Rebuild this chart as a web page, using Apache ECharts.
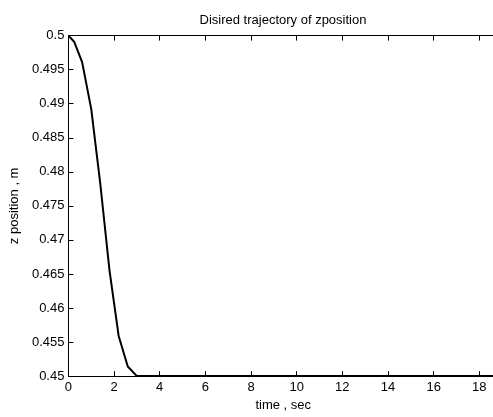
<!DOCTYPE html>
<html>
<head>
<meta charset="utf-8">
<script src="https://cdn.jsdelivr.net/npm/echarts@6/dist/echarts.min.js"></script>
<style>html,body{margin:0;padding:0;background:#fff}#c{width:493px;height:417px}</style>
</head>
<body>
<div id="c"></div>
<script>
const timeValues = [0, 0.25, 0.6, 1.0, 1.4, 1.8, 2.2, 2.6, 3.0, 19];
const zValues = [0.5, 0.4991, 0.4961, 0.4892, 0.4781, 0.4655, 0.4559, 0.4514, 0.45, 0.45];
const xTicks = [0, 2, 4, 6, 8, 10, 12, 14, 16, 18];
const yTicks = [0.45, 0.455, 0.46, 0.465, 0.47, 0.475, 0.48, 0.485, 0.49, 0.495, 0.5];
const titleText = 'Disired trajectory of zposition';
const xName = 'time , sec';
const yName = 'z position , m';

const font = 'Arial, "Liberation Sans", Helvetica, sans-serif';
const chart = echarts.init(document.getElementById('c'), null, {renderer: 'canvas'});
function line() { return {show: true, onZero: false, lineStyle: {color: '#000', width: 1}}; }
function tick() { return {show: true, inside: true, length: 5, lineStyle: {color: '#000', width: 1}}; }
chart.setOption({
  animation: false,
  backgroundColor: '#fff',
  title: {text: titleText, left: 278, top: 9, textAlign: 'center',
    textStyle: {fontFamily: font, fontSize: 13, fontWeight: 'normal', color: '#000'}},
  grid: {left: 66.5, right: 0, top: 35.6, bottom: 38.3},
  xAxis: [
    {type: 'value', min: 0, max: 18.6, interval: 2, position: 'bottom',
      name: xName, nameLocation: 'middle', nameGap: 18,
      nameTextStyle: {fontFamily: font, fontSize: 13, color: '#000', padding: [0, 0, 0, 5]},
      axisLine: line(), axisTick: tick(), splitLine: {show: false},
      axisLabel: {fontFamily: font, fontSize: 13, color: '#000', margin: 5,
        showMaxLabel: false,
        formatter: v => xTicks.includes(v) ? String(v) : ''}},
    {type: 'value', min: 0, max: 18.6, interval: 2, position: 'top',
      axisLine: line(), axisTick: tick(), splitLine: {show: false},
      axisLabel: {show: false}}
  ],
  yAxis: [
    {type: 'value', min: 0.45, max: 0.5, interval: 0.005, position: 'left',
      name: yName, nameLocation: 'middle', nameGap: 46,
      nameTextStyle: {fontFamily: font, fontSize: 13, color: '#000'},
      axisLine: line(), axisTick: tick(), splitLine: {show: false},
      axisLabel: {fontFamily: font, fontSize: 13, color: '#000', margin: 4,
        formatter: v => String(parseFloat(v.toFixed(3)))}}
  ],
  series: [{
    type: 'line', xAxisIndex: 0, yAxisIndex: 0,
    data: timeValues.map((t, i) => [t, zValues[i]]),
    showSymbol: false, symbol: 'none', clip: true,
    lineStyle: {color: '#000', width: 2}
  }]
});
</script>
</body>
</html>
